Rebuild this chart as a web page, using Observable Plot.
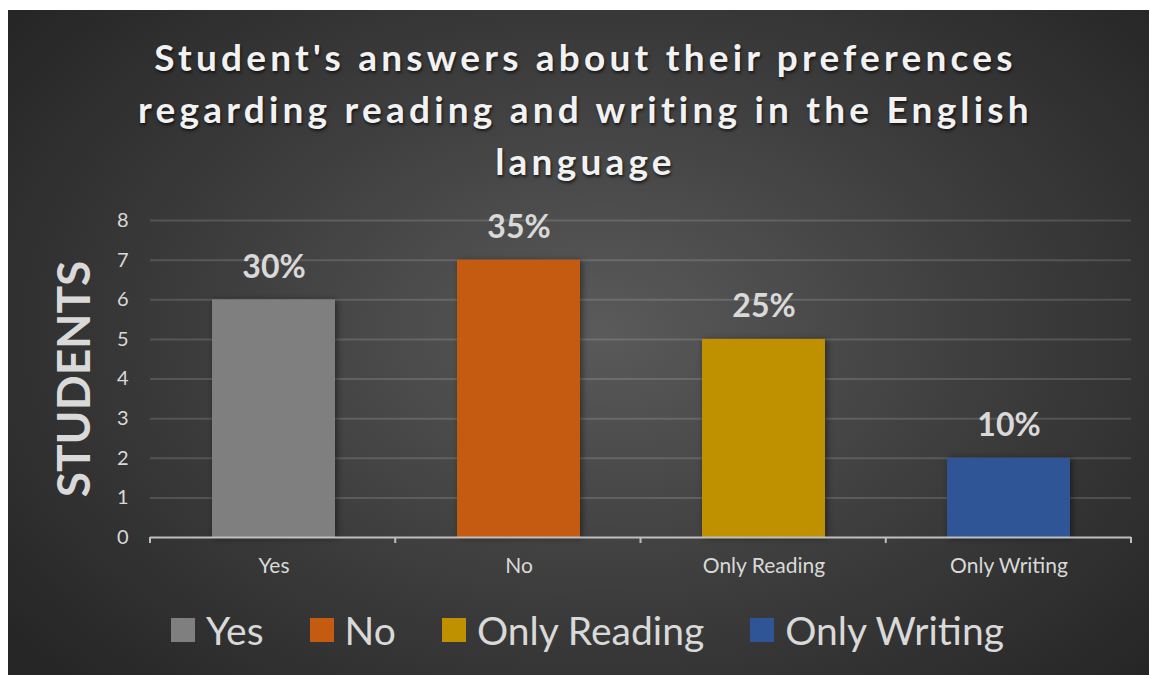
<!DOCTYPE html>
<html>
<head>
<meta charset="utf-8">
<script src="https://cdn.jsdelivr.net/npm/d3@7"></script>
<script src="https://cdn.jsdelivr.net/npm/@observablehq/plot@0.6"></script>
<style>
html, body { margin: 0; padding: 0; background: #ffffff; }
#panel {
  position: absolute; left: 8px; top: 10px; width: 1141px; height: 665px; overflow: hidden;
  background: radial-gradient(ellipse 65% 75% at 52% 48%, #5a5a5a 0%, #3c3c3c 55%, #262626 100%);
  font-family: Lato, "Open Sans", sans-serif;
}
#title {
  box-sizing: border-box; height: 178px; padding-top: 21px; padding-left: 14px;
  text-align: center; color: #f2f2f2; font-weight: 700; font-size: 37px; line-height: 52px;
  letter-spacing: 4.2px; text-shadow: 1px 2px 3px rgba(0,0,0,0.65);
}
#chart svg { display: block; }
#chart g[aria-label="bar"] rect { filter: drop-shadow(2px 1px 3px rgba(0,0,0,0.45)); }
#legend {
  display: flex; justify-content: center; align-items: center; height: 70px;
  color: #d9d9d9; font-size: 39px; padding-left: 18px;
}
#legend .item { display: flex; align-items: center; margin: 0 23px; }
#legend .sw { width: 24px; height: 24px; margin-right: 11px; }
</style>
</head>
<body>
<div id="panel">
  <div id="title"></div>
  <div id="chart"></div>
  <div id="legend"></div>
</div>
<script>
const titleLines = ["Student's answers about their preferences", "regarding reading and writing in the English", "language"];
const categories = ["Yes", "No", "Only Reading", "Only Writing"];
const students = [6, 7, 5, 2];
const percentLabels = ["30%", "35%", "25%", "10%"];
const colors = ["#7f7f7f", "#c55a11", "#bf9000", "#2f5597"];
const yTicks = [0, 1, 2, 3, 4, 5, 6, 7, 8];
const yTitle = "STUDENTS";

const data = categories.map((c, i) => ({category: c, students: students[i], label: percentLabels[i]}));

// title
const titleDiv = document.getElementById("title");
titleLines.forEach((t, i) => {
  const d = document.createElement("div");
  d.textContent = t;
  titleDiv.appendChild(d);
});

// category boundary ticks on the x axis line
const boundaryTicks = (index, scales, values, dims) => {
  const left = dims.marginLeft, right = dims.width - dims.marginRight;
  const n = categories.length;
  const y0 = scales.y(0);
  const g = d3.create("svg:g").attr("aria-label", "boundary-ticks");
  d3.range(n + 1).forEach(i => {
    const x = left + i * (right - left) / n;
    g.append("line").attr("x1", x).attr("x2", x).attr("y1", y0).attr("y2", y0 + 6)
      .attr("stroke", "#bfbfbf").attr("stroke-width", 2);
  });
  return g.node();
};

const chart = Plot.plot({
  width: 1141,
  height: 407,
  marginLeft: 142,
  marginRight: 18,
  marginTop: 32,
  marginBottom: 58,
  style: {background: "transparent", fontFamily: "Lato, 'Open Sans', sans-serif", color: "#d9d9d9", overflow: "visible"},
  x: {domain: categories, paddingInner: 0.5, paddingOuter: 0.25, label: null},
  y: {domain: [0, 8], label: null},
  color: {domain: categories, range: colors},
  marks: [
    Plot.gridY(yTicks.slice(1), {stroke: "#ffffff", strokeOpacity: 0.14, strokeWidth: 2}),
    Plot.axisY(yTicks, {tickSize: 0, tickPadding: 22, fontSize: 20, fill: "#d9d9d9", label: null}),
    Plot.axisX({tickSize: 0, tickPadding: 21, fontSize: 21, fill: "#d9d9d9", label: null}),
    Plot.barY(data, {x: "category", y: "students", fill: "category"}),
    Plot.ruleY([0], {stroke: "#bfbfbf", strokeWidth: 2}),
    boundaryTicks,
    Plot.text(data, {x: "category", y: "students", text: "label", dy: -22, lineAnchor: "bottom",
      fontSize: 32, fontWeight: "bold", fill: "#d9d9d9"}),
    Plot.text([yTitle], {frameAnchor: "left", text: d => d, dx: -75, rotate: -90, textAnchor: "middle",
      lineAnchor: "middle", fontSize: 46, fontWeight: "bold", fill: "#d9d9d9"})
  ]
});
document.getElementById("chart").appendChild(chart);

// legend
const legend = document.getElementById("legend");
categories.forEach((c, i) => {
  const item = document.createElement("div");
  item.className = "item";
  const sw = document.createElement("span");
  sw.className = "sw";
  sw.style.background = colors[i];
  const lab = document.createElement("span");
  lab.textContent = c;
  item.appendChild(sw);
  item.appendChild(lab);
  legend.appendChild(item);
});
</script>
</body>
</html>
